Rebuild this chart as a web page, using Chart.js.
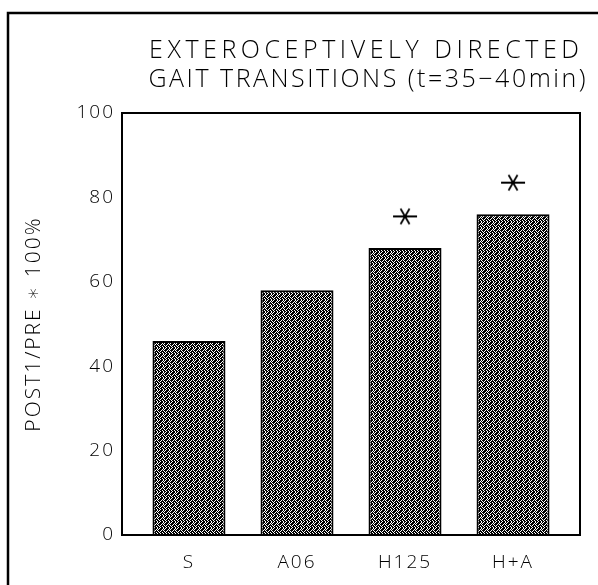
<!DOCTYPE html>
<html>
<head>
<meta charset="utf-8">
<script src="https://cdn.jsdelivr.net/npm/chart.js@4.4.1/dist/chart.umd.min.js"></script>
<style>
  html, body { margin: 0; padding: 0; background: #fff; }
  #wrap { width: 598px; height: 585px; }
</style>
</head>
<body>
<div id="wrap"><canvas id="gait-chart" width="598" height="585"></canvas></div>
<script>
// Gait transitions, post1/pre ratio per group
const categories = ['S', 'A06', 'H125', 'H+A'];
const ratioValues = [46, 58, 68, 76];
// significance markers (null = none)
const sigMarks = [null, null, 75.5, 83.5];
const yTicks = [0, 20, 40, 60, 80, 100];
const titleLines = ['EXTEROCEPTIVELY DIRECTED', 'GAIT TRANSITIONS (t=35\u221240min)'];

const FONT = '"Open Sans", "DejaVu Sans", sans-serif';

// stippled fill for the bars
function makeStipple() {
    const rows = [
        '101011',
        '010111',
        '101110',
        '110101',
        '011011',
        '101101'
    ];
    const c = document.createElement('canvas');
    c.width = 6;
    c.height = 6;
    const g = c.getContext('2d');
    g.fillStyle = '#fff';
    g.fillRect(0, 0, 6, 6);
    g.fillStyle = '#000';
    rows.forEach((r, y) => {
        for (let x = 0; x < r.length; x++) {
            if (r[x] === '1') g.fillRect(x, y, 1, 1);
        }
    });
    return g.createPattern(c, 'repeat');
}

// six-spoke asterisk marker
function makeAsterisk() {
    const c = document.createElement('canvas');
    c.width = 26;
    c.height = 20;
    const g = c.getContext('2d');
    g.strokeStyle = '#000';
    g.lineWidth = 1.8;
    g.translate(13, 10);
    g.beginPath();
    g.moveTo(-12, 0); g.lineTo(12, 0);
    const r = 9;
    const a = Math.PI / 3;
    g.moveTo(-r * Math.cos(a), -r * Math.sin(a)); g.lineTo(r * Math.cos(a), r * Math.sin(a));
    g.moveTo(r * Math.cos(a), -r * Math.sin(a)); g.lineTo(-r * Math.cos(a), r * Math.sin(a));
    g.stroke();
    return c;
}

// heading line: centre x, middle y, and the width it is spread over
function spreadText(ctx, text, cx, cy, width) {
    ctx.letterSpacing = '0px';
    const w = ctx.measureText(text).width;
    const gap = Math.max(0, (width - w) / (text.length - 1));
    ctx.letterSpacing = gap + 'px';
    ctx.fillText(text, cx + gap / 2, cy);
}

const framePlugin = {
    id: 'frame',
    beforeDraw(chart) {
        // wide letter spacing for the axis labels
        chart.ctx.letterSpacing = '2px';
    },
    afterDraw(chart) {
        const ctx = chart.ctx;
        const a = chart.chartArea;
        ctx.save();
        // plot box
        ctx.strokeStyle = '#000';
        ctx.lineWidth = 2;
        ctx.strokeRect(a.left, a.top, a.right - a.left, a.bottom - a.top);
        // outer border (left and top edges)
        ctx.lineWidth = 2.5;
        ctx.beginPath();
        ctx.moveTo(8, chart.height);
        ctx.lineTo(8, 13);
        ctx.lineTo(chart.width, 13);
        ctx.stroke();
        // two-line heading
        ctx.fillStyle = '#000';
        ctx.font = '300 25px ' + FONT;
        ctx.textAlign = 'center';
        ctx.textBaseline = 'middle';
        spreadText(ctx, titleLines[0], 364, 51, 430);
        spreadText(ctx, titleLines[1], 367, 80, 437);
        ctx.restore();
        ctx.letterSpacing = '0px';
    }
};

const ctx = document.getElementById('gait-chart').getContext('2d');

new Chart(ctx, {
    data: {
        datasets: [
            {
                type: 'bar',
                data: ratioValues.map((v, i) => ({ x: i, y: v })),
                backgroundColor: makeStipple(),
                borderColor: '#000',
                borderWidth: 2,
                borderSkipped: 'bottom',
                barPercentage: 0.676,
                categoryPercentage: 1,
                order: 2
            },
            {
                type: 'scatter',
                data: sigMarks.map((v, i) => (v === null ? null : { x: i, y: v })).filter(p => p),
                pointStyle: makeAsterisk(),
                pointRadius: 10,
                order: 1
            }
        ]
    },
    options: {
        responsive: false,
        animation: false,
        layout: {
            padding: { top: 113, right: 18, bottom: 15, left: 14 }
        },
        scales: {
            x: {
                type: 'linear',
                min: -0.62,
                max: 3.62,
                offset: false,
                grid: { display: false, drawTicks: false },
                border: { display: false },
                afterBuildTicks: (scale) => {
                    scale.ticks = categories.map((c, i) => ({ value: i }));
                },
                afterFit: (scale) => { scale.height = 35; },
                ticks: {
                    color: '#000',
                    padding: 16,
                    maxRotation: 0,
                    autoSkip: false,
                    font: { family: FONT, size: 19, weight: 300 },
                    callback: (v) => categories[v]
                }
            },
            y: {
                min: 0,
                max: 100,
                grid: { display: false, drawTicks: false },
                border: { display: false },
                afterBuildTicks: (scale) => {
                    scale.ticks = yTicks.map(v => ({ value: v }));
                },
                afterFit: (scale) => { scale.width = 108; },
                title: {
                    display: true,
                    text: 'POST1/PRE \u2217 100%',
                    color: '#000',
                    font: { family: FONT, size: 21, weight: 300 },
                    padding: { top: 7, bottom: 0 }
                },
                ticks: {
                    color: '#000',
                    padding: 7,
                    font: { family: FONT, size: 19, weight: 300 }
                }
            }
        },
        plugins: {
            legend: { display: false },
            title: { display: false },
            tooltip: { enabled: false }
        }
    },
    plugins: [framePlugin]
});
</script>
</body>
</html>
